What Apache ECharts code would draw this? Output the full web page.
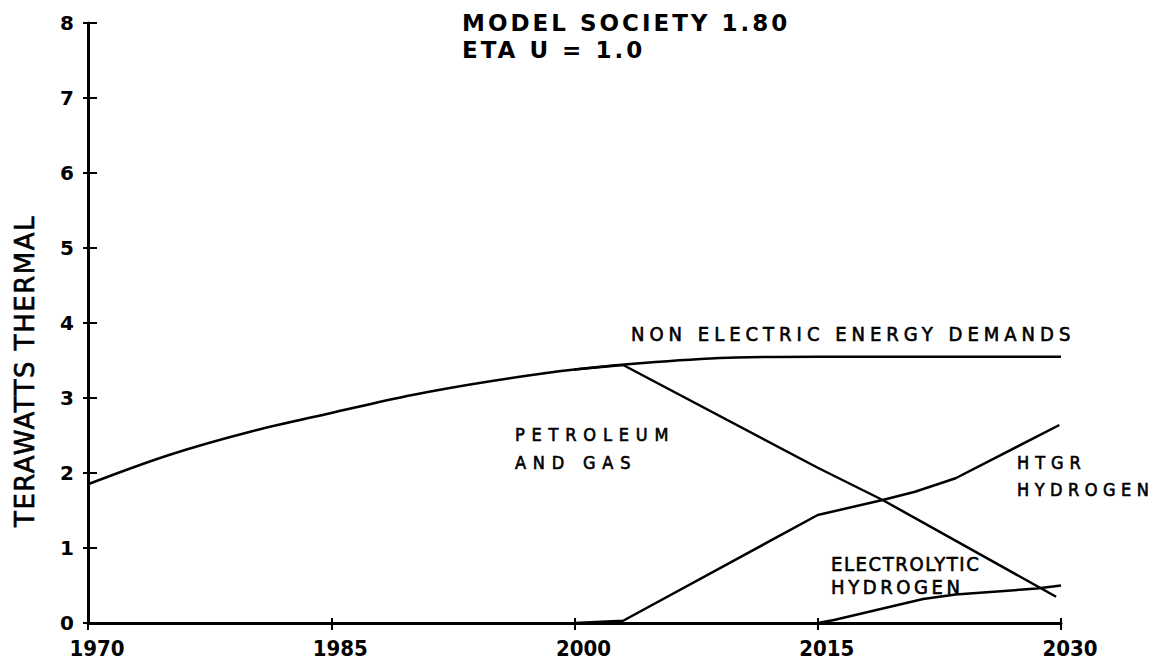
<!DOCTYPE html>
<html>
<head>
<meta charset="utf-8">
<script src="https://cdn.jsdelivr.net/npm/echarts@6/dist/echarts.min.js"></script>
<style>
html, body { margin: 0; padding: 0; background: #fff; }
#main { width: 1158px; height: 665px; }
</style>
</head>
<body>
<div id="main"></div>
<script>
// axis ticks
const xTicks = [1970, 1985, 2000, 2015, 2030]
const yTicks = [0, 1, 2, 3, 4, 5, 6, 7, 8]

// non electric energy demands
const demandYears = [1970, 1975, 1980, 1985, 1990, 1995, 2000, 2005, 2010, 2015, 2020, 2025, 2030]
const demandValues = [1.85, 2.24, 2.55, 2.80, 3.04, 3.23, 3.38, 3.48, 3.54, 3.55, 3.55, 3.55, 3.55]

// petroleum and gas
const petroleumYears = [2000, 2003, 2015, 2019, 2029.7]
const petroleumValues = [3.38, 3.44, 2.07, 1.64, 0.35]

// HTGR hydrogen
const htgrYears = [2000, 2003, 2015, 2019, 2021, 2023.5, 2029.9]
const htgrValues = [0, 0.03, 1.44, 1.64, 1.75, 1.93, 2.64]

// electrolytic hydrogen
const electroYears = [2015, 2016, 2021.5, 2023.5, 2028.5, 2030]
const electroValues = [0, 0.04, 0.32, 0.38, 0.46, 0.5]

const cond = '"DejaVu Sans Condensed", "DejaVu Sans", sans-serif'
const plain = '"DejaVu Sans", sans-serif'

// letter spacing for the hand lettered texts (svg renderer)
const spacing = {
  'MODEL SOCIETY 1.80': 3,
  'ETA U = 1.0': 3,
  'NON ELECTRIC ENERGY DEMANDS': 5,
  'PETROLEUM': 6.8,
  'AND GAS': 6.8,
  'HTGR': 6,
  'ELECTROLYTIC': 1.6,
  'TERAWATTS THERMAL': 1.5
}

const pairs = (xs, ys) => xs.map((x, i) => [x, ys[i]])

function lineSeries(name, xs, ys, smooth) {
  return {
    name: name,
    type: 'line',
    data: pairs(xs, ys),
    showSymbol: false,
    smooth: smooth ? 0.35 : false,
    silent: true,
    lineStyle: { color: '#000', width: 2.5 }
  }
}

function label(text, x, y, size, family, weight) {
  return {
    type: 'text',
    x: x,
    y: y,
    silent: true,
    style: {
      text: text,
      fill: '#000',
      stroke: weight ? null : '#000',
      lineWidth: weight ? 0 : 0.6,
      fontSize: size,
      fontFamily: family,
      fontWeight: weight || 'normal',
      align: 'left',
      verticalAlign: 'middle'
    }
  }
}

const chart = echarts.init(document.getElementById('main'), null, { renderer: 'svg' })

const option = {
  animation: false,
  backgroundColor: '#fff',
  grid: { left: 88, right: 97, top: 23, bottom: 42, containLabel: false, outerBoundsMode: 'none' },
  xAxis: [
    {
      type: 'value',
      position: 'bottom',
      min: xTicks[0],
      max: xTicks[xTicks.length - 1],
      interval: 15,
      axisLine: { show: true, onZero: false, lineStyle: { color: '#000', width: 3 } },
      axisTick: { show: true, length: 7, lineStyle: { color: '#000', width: 2 } },
      axisLabel: {
        color: '#000',
        fontFamily: cond,
        fontWeight: 'bold',
        fontSize: 22,
        margin: 14,
        padding: [0, 0, 0, 18],
        formatter: v => String(v)
      },
      splitLine: { show: false }
    },
    {
      type: 'value',
      position: 'bottom',
      min: xTicks[0],
      max: xTicks[xTicks.length - 1],
      interval: 15,
      axisLine: { show: false },
      axisTick: { show: true, inside: true, length: 5, lineStyle: { color: '#000', width: 2 } },
      axisLabel: { show: false },
      splitLine: { show: false }
    }
  ],
  yAxis: [
    {
      type: 'value',
      position: 'left',
      min: yTicks[0],
      max: yTicks[yTicks.length - 1],
      interval: 1,
      name: 'TERAWATTS THERMAL',
      nameLocation: 'middle',
      nameRotate: 90,
      nameGap: 50,
      nameTextStyle: {
        color: '#000',
        fontFamily: plain,
        fontSize: 26,
        textBorderColor: '#000',
        textBorderWidth: 0.6,
        padding: [0, 96, 0, 0]
      },
      axisLine: { show: true, onZero: false, lineStyle: { color: '#000', width: 3 } },
      axisTick: { show: true, length: 5, lineStyle: { color: '#000', width: 2 } },
      axisLabel: { color: '#000', fontFamily: plain, fontWeight: 'bold', fontSize: 20, margin: 14 },
      splitLine: { show: false }
    },
    {
      type: 'value',
      position: 'left',
      min: yTicks[0],
      max: yTicks[yTicks.length - 1],
      interval: 1,
      axisLine: { show: false },
      axisTick: { show: true, inside: true, length: 9, lineStyle: { color: '#000', width: 2 } },
      axisLabel: { show: false },
      splitLine: { show: false }
    }
  ],
  series: [
    lineSeries('NON ELECTRIC ENERGY DEMANDS', demandYears, demandValues, true),
    lineSeries('PETROLEUM AND GAS', petroleumYears, petroleumValues),
    lineSeries('HTGR HYDROGEN', htgrYears, htgrValues),
    lineSeries('ELECTROLYTIC HYDROGEN', electroYears, electroValues)
  ],
  graphic: [
    label('MODEL SOCIETY 1.80', 462, 23, 23, plain, 'bold'),
    label('ETA U = 1.0', 462, 50, 23, plain, 'bold'),
    label('NON ELECTRIC ENERGY DEMANDS', 631, 334, 20, cond),
    label('PETROLEUM', 515, 434, 18, cond),
    label('AND GAS', 515, 462, 18, cond),
    label('HTGR', 1017, 462, 18, cond),
    label('HYDROGEN', 1017, 489, 18, cond),
    label('ELECTROLYTIC', 831, 564, 20, cond),
    label('HYDROGEN', 831, 587, 20, cond)
  ]
}

chart.setOption(option)

function applySpacing() {
  document.querySelectorAll('#main text').forEach(el => {
    const t = el.textContent
    let ls = spacing[t]
    if (t === 'HYDROGEN') {
      ls = parseFloat(getComputedStyle(el).fontSize) > 19 ? 3.6 : 5.5
    }
    if (ls !== undefined) {
      el.setAttribute('letter-spacing', ls)
      el.style.letterSpacing = ls + 'px'
    }
  })
}
applySpacing()
chart.on('finished', applySpacing)
</script>
</body>
</html>
